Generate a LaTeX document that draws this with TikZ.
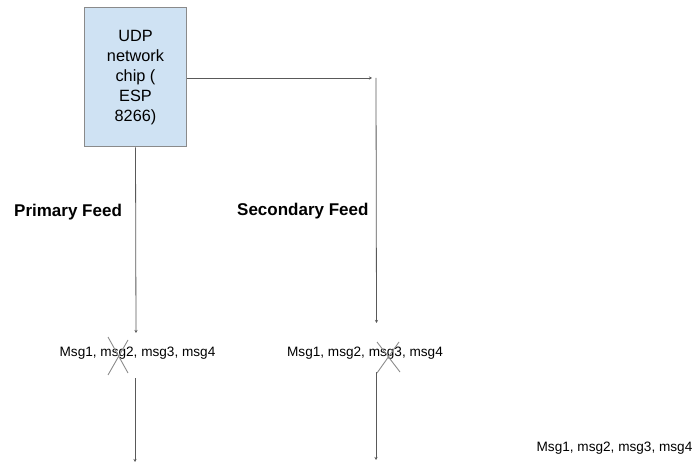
\documentclass[tikz,border=0pt]{standalone}
\usepackage{fontspec}
\setmainfont{Liberation Sans}
\usetikzlibrary{arrows.meta}
\definecolor{boxfill}{HTML}{CFE2F3}
\definecolor{boxline}{HTML}{8A8A8A}
\definecolor{wire}{HTML}{595959}
\definecolor{crossc}{HTML}{8C8C8C}
\tikzset{
  chipbox/.style={draw=boxline, fill=boxfill, line width=1pt, minimum width=102pt, minimum height=139pt, inner sep=0pt, align=center, font=\fontsize{16.3}{20}\selectfont},
  msgtext/.style={inner sep=0pt, font=\fontsize{13.6}{16}\selectfont},
  feedlabel/.style={inner sep=0pt, font=\fontsize{17}{20}\selectfont\bfseries},
  wireline/.style={draw=wire, line width=0.8pt, -{Stealth[length=3pt,width=3pt]}},
  plainwire/.style={draw=wire, line width=0.8pt},
  crossline/.style={draw=crossc, line width=0.9pt}
}
\begin{document}
\begin{tikzpicture}[x=1pt,y=-1pt]
\useasboundingbox (0,0) rectangle (694,465);
\node[chipbox] (chip) at (135.5,77.5) {UDP\\network\\chip (\\ESP\\8266)};
\node[feedlabel, anchor=west] (pf) at (14,212) {Primary Feed};
\node[feedlabel, anchor=west] (sf) at (237,211) {Secondary Feed};
\node[msgtext] (pm) at (137.5,353) {Msg1, msg2, msg3, msg4};
\node[msgtext] (sm) at (365,353) {Msg1, msg2, msg3, msg4};
\node[msgtext] (rm) at (614.5,448) {Msg1, msg2, msg3, msg4};
% coordinates
\coordinate (hEnd) at (372,78);
\coordinate (vTop) at (376,78);
\coordinate (sEnd) at (376.5,323);
\coordinate (pEnd) at (136,333);
\coordinate (pLowTop) at (135,378);
\coordinate (pLowEnd) at (135,462);
\coordinate (sLowTop) at (376,372);
\coordinate (sLowEnd) at (376,460);
% connectors
\draw[wireline] (chip.east |- hEnd) -- (hEnd);
\draw[wireline] (vTop) -- (sEnd);
\draw[wireline] (chip.south) -- (pEnd);
\draw[wireline] (pLowTop) -- (pLowEnd);
\draw[wireline] (sLowTop) -- (sLowEnd);
% crosses
\draw[crossline] (108,337) -- (128,373);
\draw[crossline] (128,340) -- (108,375);
\draw[crossline] (377,342) -- (400,372);
\draw[crossline] (399,342) -- (377,373);
\end{tikzpicture}
\end{document}
